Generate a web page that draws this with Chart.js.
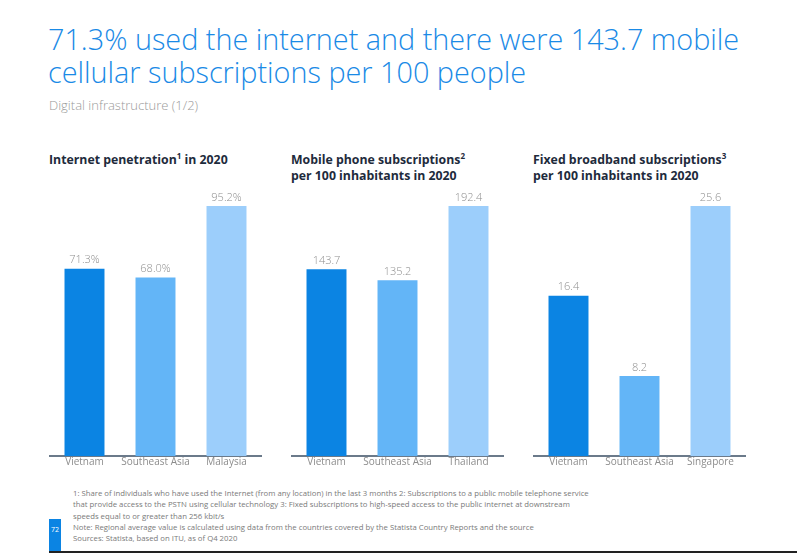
<!DOCTYPE html>
<html>
<head>
<meta charset="utf-8">
<script src="https://cdn.jsdelivr.net/npm/chart.js@4/dist/chart.umd.min.js"></script>
<style>
  html, body { margin: 0; padding: 0; background: #fff; }
  body { width: 797px; height: 553px; position: relative; overflow: hidden; font-family: "Open Sans", sans-serif; }
  .abs { position: absolute; white-space: nowrap; }
  #headline { left: 48px; top: 22px; font-size: 28.8px; line-height: 33px; font-weight: 300; color: #1a8ae6; }
  #sub { left: 49px; top: 96px; font-size: 13px; font-weight: 300; color: #9a9a9a; }
  .ctitle { font-size: 12.3px; font-weight: 700; color: #1e2b3c; line-height: 16px; }
  .ctitle sup { font-size: 8px; line-height: 0; vertical-align: 5px; }
  canvas { position: absolute; }
  #foot { left: 73px; top: 488px; font-size: 7.75px; line-height: 11.3px; color: #7a7a7a; }
  #pg { left: 49px; top: 519px; width: 12px; height: 33px; background: #0b84e3; color: #fff; font-size: 7px; text-align: center; line-height: 22px; }
  #bottomline { left: 49px; top: 551px; width: 748px; height: 2px; background: #222; }
</style>
</head>
<body>
<div id="headline" class="abs">71.3% used the internet and there were 143.7 mobile<br>cellular subscriptions per 100 people</div>
<div id="sub" class="abs">Digital infrastructure (1/2)</div>

<div class="abs ctitle" style="left:49px; top:152px;">Internet penetration<sup>1</sup> in 2020</div>
<div class="abs ctitle" style="left:291px; top:152px;">Mobile phone subscriptions<sup>2</sup><br>per 100 inhabitants in 2020</div>
<div class="abs ctitle" style="left:533px; top:152px;">Fixed broadband subscriptions<sup>3</sup><br>per 100 inhabitants in 2020</div>

<canvas id="c1" width="213" height="290" style="left:49px; top:186px; width:213px; height:290px;"></canvas>
<canvas id="c2" width="213" height="290" style="left:291px; top:186px; width:213px; height:290px;"></canvas>
<canvas id="c3" width="213" height="290" style="left:533px; top:186px; width:213px; height:290px;"></canvas>

<div id="foot" class="abs">1: Share of individuals who have used the Internet (from any location) in the last 3 months 2: Subscriptions to a public mobile telephone service<br>that provide access to the PSTN using cellular technology 3: Fixed subscriptions to high-speed access to the public internet at downstream<br>speeds equal to or greater than 256 kbit/s<br>Note: Regional average value is calculated using data from the countries covered by the Statista Country Reports and the source<br>Sources: Statista, based on ITU, as of Q4 2020</div>
<div id="pg" class="abs">72</div>
<div id="bottomline" class="abs"></div>

<script>
// ---- data ----
const internetCategories = ["Vietnam", "Southeast Asia", "Malaysia"];
const internetValues = [71.3, 68.0, 95.2];
const internetLabels = ["71.3%", "68.0%", "95.2%"];

const mobileCategories = ["Vietnam", "Southeast Asia", "Thailand"];
const mobileValues = [143.7, 135.2, 192.4];
const mobileLabels = ["143.7", "135.2", "192.4"];

const broadbandCategories = ["Vietnam", "Southeast Asia", "Singapore"];
const broadbandValues = [16.4, 8.2, 25.6];
const broadbandLabels = ["16.4", "8.2", "25.6"];

const barColors = ["#0b84e3", "#63b5f7", "#9ccefb"];

// ---- value label plugin ----
const valueLabelPlugin = {
  id: "valueLabels",
  afterDatasetsDraw(chart) {
    const ctx = chart.ctx;
    const labels = chart.options.plugins.valueLabels.labels;
    const meta = chart.getDatasetMeta(0);
    ctx.save();
    ctx.font = "300 11px 'Open Sans'";
    ctx.fillStyle = "#8f8f8f";
    ctx.textAlign = "center";
    ctx.textBaseline = "bottom";
    meta.data.forEach((bar, i) => {
      ctx.fillText(labels[i], bar.x, bar.y - 3);
    });
    ctx.restore();
  }
};

function makeChart(id, categories, values, labels) {
  new Chart(document.getElementById(id), {
    type: "bar",
    data: {
      labels: categories,
      datasets: [{
        data: values,
        backgroundColor: barColors,
        borderWidth: 0,
        barPercentage: 0.563,
        categoryPercentage: 1.0
      }]
    },
    options: {
      responsive: false,
      animation: false,
      events: [],
      layout: { padding: { top: 20, left: 0, right: 0, bottom: 0 } },
      plugins: {
        legend: { display: false },
        tooltip: { enabled: false },
        valueLabels: { labels: labels }
      },
      scales: {
        x: {
          grid: { display: false, drawTicks: false },
          border: { display: true, color: "#6b7a8a", width: 2 },
          ticks: {
            color: "#8c8c8c",
            font: { family: "Open Sans", size: 10, weight: "400" },
            padding: 0,
            maxRotation: 0,
            minRotation: 0,
            autoSkip: false
          },
          afterFit(scale) { scale.height = 20; scale.paddingLeft = 0; scale.paddingRight = 0; }
        },
        y: {
          display: false,
          min: 0,
          max: Math.max(...values)
        }
      }
    },
    plugins: [valueLabelPlugin]
  });
}

makeChart("c1", internetCategories, internetValues, internetLabels);
makeChart("c2", mobileCategories, mobileValues, mobileLabels);
makeChart("c3", broadbandCategories, broadbandValues, broadbandLabels);
</script>
</body>
</html>
